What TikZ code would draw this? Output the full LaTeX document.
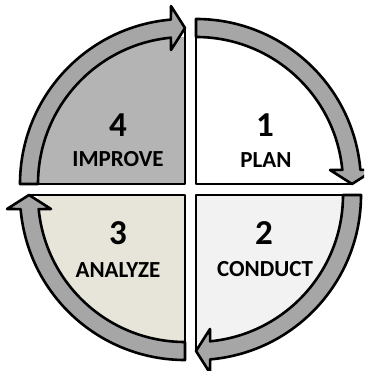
\documentclass[tikz,border=0pt]{standalone}
\usepackage{fontspec}
\setmainfont{Carlito}
\begin{document}
\begin{tikzpicture}[x=1pt,y=1pt,
  line join=round,
  outline/.style={draw=black,line width=2.6pt},
  band/.style={outline,fill=bandgray},
  digit/.style={font=\bfseries\fontsize{35}{35}\selectfont,anchor=base,inner sep=0pt},
  label/.style={font=\bfseries\fontsize{23}{23}\selectfont,anchor=base,inner sep=0pt}]
\definecolor{bandgray}{RGB}{166,166,166}
\definecolor{improvegray}{RGB}{180,180,180}
\definecolor{conductgray}{RGB}{242,242,242}
\definecolor{analyzebeige}{RGB}{231,229,217}
% one quadrant: sector, curved arrow band, straight edges
\newcommand{\quadrant}[4]{%
  \begin{scope}[shift={(#1,#2)},rotate=#3]
    \fill[#4] (0,0) -- (90:147) arc[start angle=90,end angle=0,radius=147] -- cycle;
    \draw[band] (90:165) arc[start angle=90,end angle=4.9,radius=165]
      -- (178,14) -- (156,0) -- (134,14)
      -- (5.5:147) arc[start angle=5.5,end angle=90,radius=147] -- cycle;
    \draw[outline,line cap=round] (0,165) -- (0,0) -- (156,0);
  \end{scope}}
\useasboundingbox (0,0) rectangle (364,371);
\clip (0,0) rectangle (364,371);
\fill[white] (0,0) rectangle (364,371);
\quadrant{196}{187}{0}{white}
\quadrant{196}{176}{-90}{conductgray}
\quadrant{185}{176}{-180}{analyzebeige}
\quadrant{185}{187}{90}{improvegray}
\node[digit] (n1) at (265,234) {1};
\node[label] (l1) at (266,203) {PLAN};
\node[digit] (n2) at (264,126) {2};
\node[label] (l2) at (265,94) {CONDUCT};
\node[digit] (n3) at (118,126) {3};
\node[label] (l3) at (118,93) {ANALYZE};
\node[digit] (n4) at (118,234) {4};
\node[label] (l4) at (118,204) {IMPROVE};
\end{tikzpicture}
\end{document}
